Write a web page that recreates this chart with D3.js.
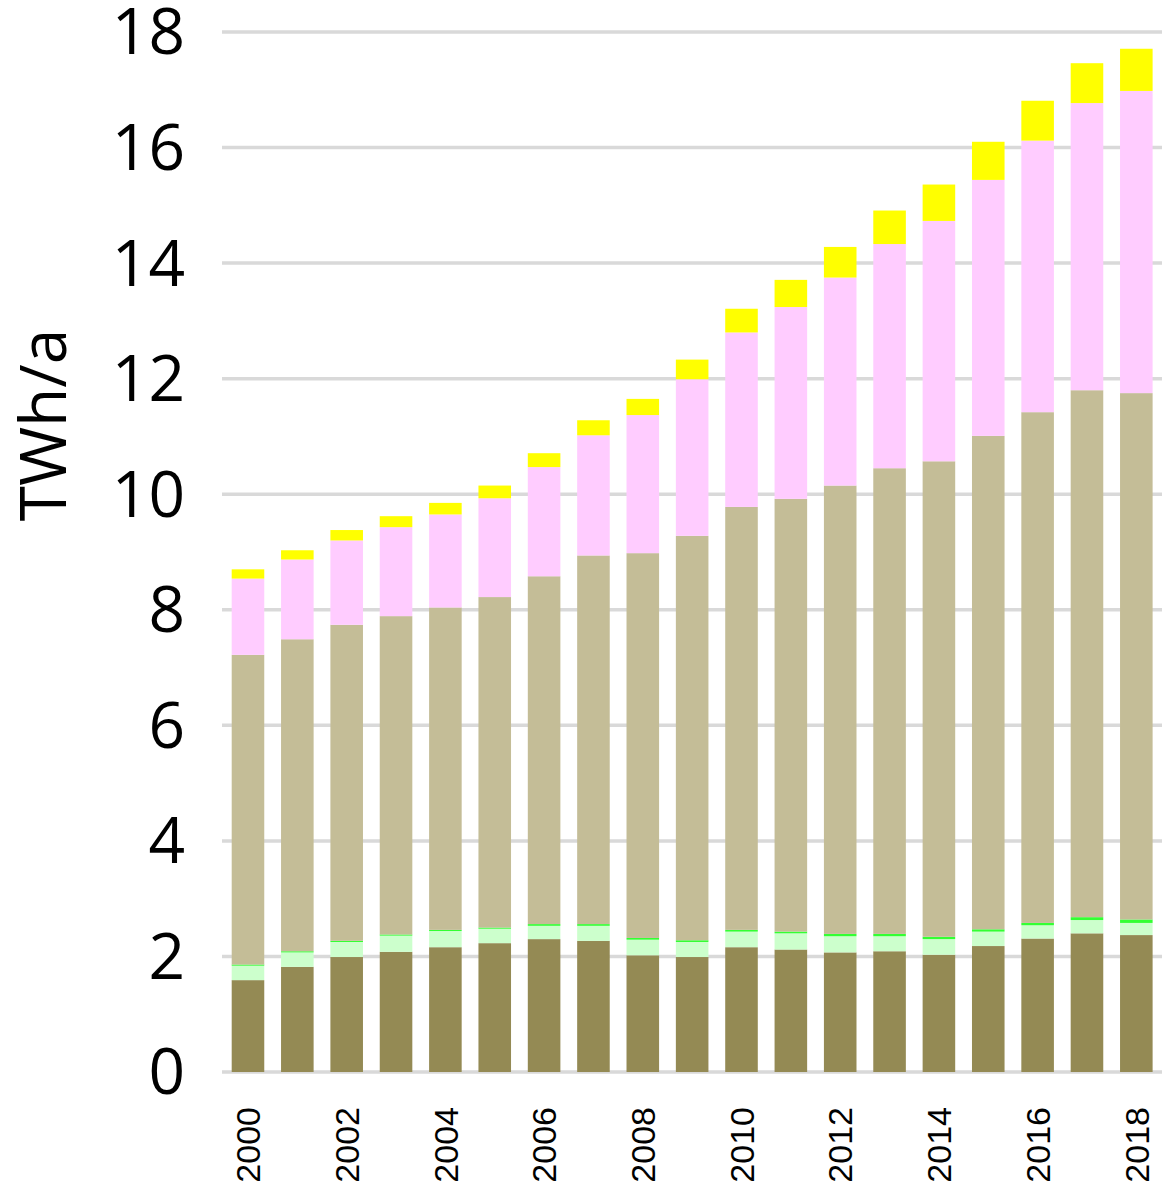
<!DOCTYPE html>
<html>
<head>
  <meta charset="UTF-8">
  <script src="https://d3js.org/d3.v7.min.js"></script>
  <style>
    body { margin: 0; background: #fff; }
  </style>
</head>
<body>
  <svg></svg>
<script>
  let width = 1166,
    height = 1187;

  // data (TWh/a), one array per stack segment, bottom to top
  let years = ["2000", "2001", "2002", "2003", "2004", "2005", "2006", "2007", "2008", "2009",
    "2010", "2011", "2012", "2013", "2014", "2015", "2016", "2017", "2018"];
  let darkOlive = [1.59, 1.82, 1.99, 2.08, 2.16, 2.23, 2.30, 2.27, 2.02, 1.99,
    2.16, 2.12, 2.07, 2.09, 2.03, 2.18, 2.31, 2.40, 2.37];
  let lightGreen = [0.25, 0.25, 0.26, 0.28, 0.28, 0.25, 0.23, 0.26, 0.27, 0.26,
    0.27, 0.28, 0.28, 0.26, 0.27, 0.25, 0.23, 0.23, 0.21];
  let brightGreen = [0.02, 0.02, 0.02, 0.02, 0.02, 0.02, 0.03, 0.03, 0.03, 0.03,
    0.03, 0.03, 0.04, 0.04, 0.04, 0.04, 0.04, 0.05, 0.06];
  let tan = [5.36, 5.40, 5.47, 5.51, 5.58, 5.72, 6.02, 6.38, 6.66, 7.00,
    7.32, 7.49, 7.76, 8.06, 8.23, 8.54, 8.84, 9.12, 9.11];
  let pink = [1.32, 1.38, 1.46, 1.54, 1.61, 1.71, 1.89, 2.08, 2.39, 2.71,
    3.02, 3.32, 3.60, 3.88, 4.16, 4.43, 4.70, 4.97, 5.23];
  let yellow = [0.16, 0.16, 0.18, 0.19, 0.20, 0.22, 0.24, 0.26, 0.28, 0.34,
    0.41, 0.47, 0.53, 0.58, 0.63, 0.66, 0.69, 0.69, 0.73];
  let yTicks = [0, 2, 4, 6, 8, 10, 12, 14, 16, 18];
  let xLabels = ["2000", "2002", "2004", "2006", "2008", "2010", "2012", "2014", "2016", "2018"];

  let keys = ["darkOlive", "lightGreen", "brightGreen", "tan", "pink", "yellow"];
  let colors = ["#948A54", "#CCFFCC", "#33FF33", "#C4BD97", "#FFCCFF", "#FFFF00"];

  let table = years.map((y, i) => ({
    year: y,
    darkOlive: darkOlive[i],
    lightGreen: lightGreen[i],
    brightGreen: brightGreen[i],
    tan: tan[i],
    pink: pink[i],
    yellow: yellow[i]
  }));

  let svg = d3.select("svg")
    .attr("width", width)
    .attr("height", height);

  let x = d3.scaleBand()
    .domain(years)
    .range([223.3, 1161])
    .paddingInner(0.34)
    .paddingOuter(0.17);

  let y = d3.scaleLinear()
    .domain([0, 18])
    .range([1072, 32]);

  // gridlines
  svg.append("g")
    .selectAll("line")
    .data(yTicks)
    .enter()
    .append("line")
    .attr("x1", 222)
    .attr("x2", 1162)
    .attr("y1", d => y(d))
    .attr("y2", d => y(d))
    .attr("stroke", "#D9D9D9")
    .attr("stroke-width", 3.5);

  let stack = d3.stack().keys(keys)(table);

  svg.append("g")
    .selectAll("g")
    .data(stack)
    .enter()
    .append("g")
    .attr("fill", (d, i) => colors[i])
    .selectAll("rect")
    .data(d => d)
    .enter()
    .append("rect")
    .attr("x", d => x(d.data.year))
    .attr("width", x.bandwidth())
    .attr("y", d => y(d[1]))
    .attr("height", d => y(d[0]) - y(d[1]));

  // y tick labels
  svg.append("g")
    .selectAll("text")
    .data(yTicks)
    .enter()
    .append("text")
    .attr("x", 185)
    .attr("y", d => y(d))
    .attr("dy", "0.35em")
    .attr("text-anchor", "end")
    .style("font-family", "'Open Sans', sans-serif")
    .style("font-size", "64px")
    .text(d => d);

  // x tick labels, rotated
  svg.append("g")
    .selectAll("text")
    .data(xLabels)
    .enter()
    .append("text")
    .attr("transform", d => "translate(" + (x(d) + x.bandwidth() / 2) + ",1107) rotate(-90)")
    .attr("dy", "0.36em")
    .attr("text-anchor", "end")
    .style("font-family", "'Liberation Sans', Arial, sans-serif")
    .style("font-size", "34px")
    .text(d => d);

  // y axis title
  svg.append("text")
    .attr("transform", "translate(44,425) rotate(-90)")
    .attr("dy", "0.35em")
    .attr("text-anchor", "middle")
    .style("font-family", "'Open Sans', sans-serif")
    .style("font-size", "64px")
    .text("TWh/a");
</script>
</body>
</html>
